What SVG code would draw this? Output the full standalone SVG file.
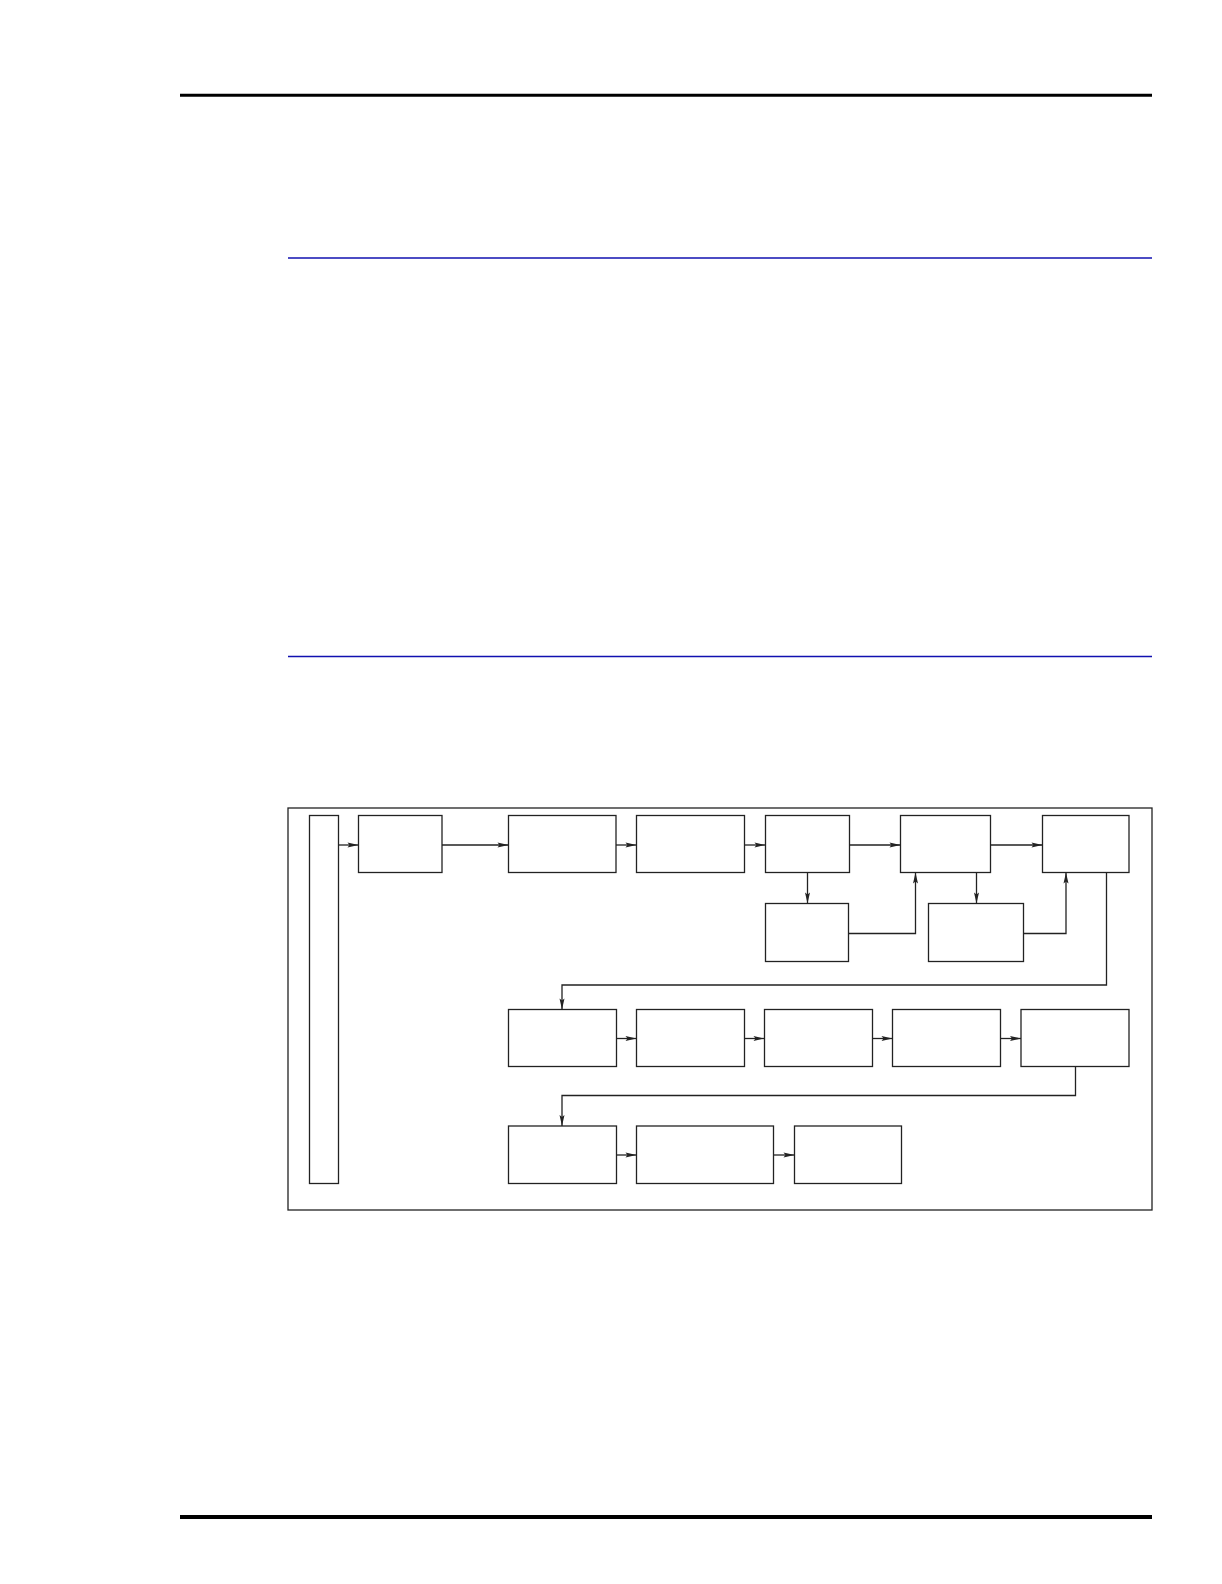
<svg xmlns="http://www.w3.org/2000/svg" width="1222" height="1584" viewBox="0 0 1222 1584">
<style>
.n{fill:#fff;stroke:#222;stroke-width:1.3}
.c{fill:none;stroke:#222;stroke-width:1.3}
.rule{stroke:#000}
.blue{stroke:#1010b0;stroke-width:1.3}
</style>
<defs>
<marker id="ah" markerUnits="userSpaceOnUse" markerWidth="12" markerHeight="6" refX="11" refY="2.5" orient="auto" overflow="visible">
<path d="M0,0 L11,2.5 L0,5 L2,2.5 z" fill="#222"/>
</marker>
</defs>
<rect width="1222" height="1584" fill="#fff"/>
<line class="rule" x1="180" y1="95.3" x2="1152" y2="95.3" stroke-width="3"/>
<line class="blue" x1="288" y1="258" x2="1152" y2="258"/>
<line class="blue" x1="288" y1="656.5" x2="1152" y2="656.5"/>
<line class="rule" x1="180" y1="1517" x2="1152" y2="1517" stroke-width="4"/>
<rect id="frame" x="288" y="808" width="864" height="402" fill="none" stroke="#222" stroke-width="1.3"/>
<g id="bar"><rect class="n" x="309.5" y="815.5" width="29" height="368"/></g>
<g id="r1b1"><rect class="n" x="358.5" y="815.5" width="83.5" height="57"/></g>
<g id="r1b2"><rect class="n" x="508.5" y="815.5" width="107.5" height="57"/></g>
<g id="r1b3"><rect class="n" x="636.5" y="815.5" width="108" height="57"/></g>
<g id="r1b4"><rect class="n" x="765.5" y="815.5" width="84" height="57"/></g>
<g id="r1b5"><rect class="n" x="900.5" y="815.5" width="90" height="57"/></g>
<g id="r1b6"><rect class="n" x="1042.5" y="815.5" width="86.5" height="57"/></g>
<g id="subA"><rect class="n" x="765.5" y="903.5" width="83" height="58"/></g>
<g id="subB"><rect class="n" x="928.5" y="903.5" width="95" height="58"/></g>
<g id="r2b1"><rect class="n" x="508.5" y="1009.5" width="108" height="57"/></g>
<g id="r2b2"><rect class="n" x="636.5" y="1009.5" width="108" height="57"/></g>
<g id="r2b3"><rect class="n" x="764.5" y="1009.5" width="108" height="57"/></g>
<g id="r2b4"><rect class="n" x="892.5" y="1009.5" width="108" height="57"/></g>
<g id="r2b5"><rect class="n" x="1021" y="1009.5" width="108" height="57"/></g>
<g id="r3b1"><rect class="n" x="508.5" y="1126" width="108" height="57.5"/></g>
<g id="r3b2"><rect class="n" x="636.5" y="1126" width="137" height="57.5"/></g>
<g id="r3b3"><rect class="n" x="794.5" y="1126" width="107" height="57.5"/></g>
<g id="connectors" class="c" marker-end="url(#ah)">
<path d="M338.5,845 H358.5"/>
<path d="M442,845 H508.5"/>
<path d="M616,845 H636.5"/>
<path d="M744.5,845 H765.5"/>
<path d="M849.5,845 H900.5"/>
<path d="M990.5,845 H1042.5"/>
<path d="M807.5,872.5 V903.5"/>
<path d="M848.5,933.5 H915.5 V872.5"/>
<path d="M976.5,872.5 V903.5"/>
<path d="M1023.5,933.5 H1066 V872.5"/>
<path d="M1106.5,872.5 V985 H562 V1009.5"/>
<path d="M616.5,1038.5 H636.5"/>
<path d="M744.5,1038.5 H764.5"/>
<path d="M872.5,1038.5 H892.5"/>
<path d="M1000.5,1038.5 H1021"/>
<path d="M1075.5,1066.5 V1095.5 H562 V1126"/>
<path d="M616.5,1155 H636.5"/>
<path d="M773.5,1155 H794.5"/>
</g>
</svg>
